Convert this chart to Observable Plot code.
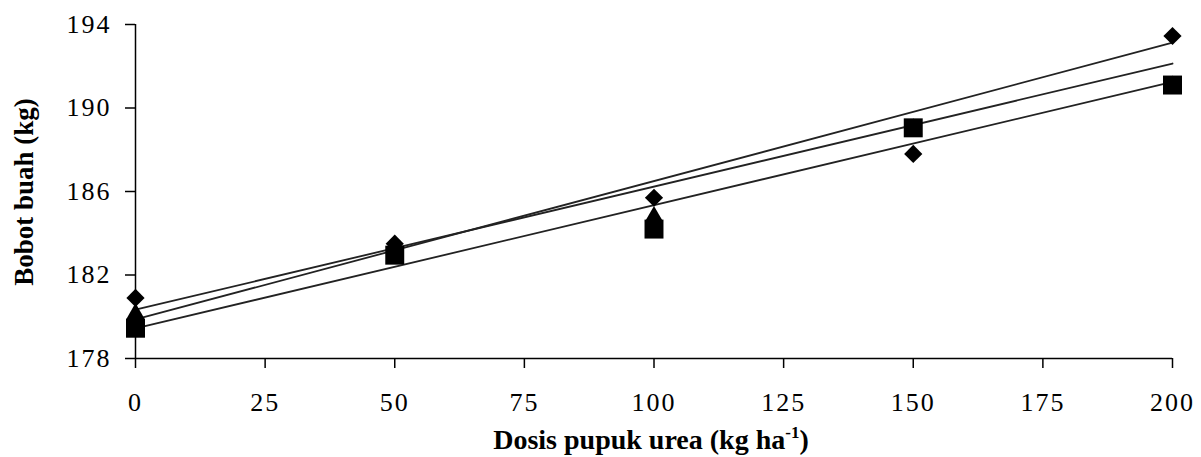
<!DOCTYPE html>
<html>
<head>
<meta charset="utf-8">
<script src="https://cdn.jsdelivr.net/npm/d3@7"></script>
<script src="https://cdn.jsdelivr.net/npm/@observablehq/plot@0.6"></script>
<style>
  html, body { margin: 0; padding: 0; background: #fff; }
  #chart svg { display: block; }
</style>
</head>
<body>
<div id="chart"></div>
<script>
// Dose of urea fertilizer (kg/ha)
const doses = [0, 50, 100, 150, 200];
// Fruit weight (kg) per series
const seriesDiamond  = [180.9, 183.5, 185.7, 187.8, 193.45];
const seriesTriangle = [180.15, 183.3, 184.8, 189.0, 191.05];
const seriesSquare   = [179.45, 182.95, 184.2, 189.05, 191.1];
// Fitted trend lines (values at x = 0 and x = 200)
const trendX        = [0, 200];
const trendDiamond  = [180.34, 192.13];
const trendTriangle = [179.87, 193.13];
const trendSquare   = [179.44, 191.25];
// Axis ticks
const xTicks = [0, 25, 50, 75, 100, 125, 150, 175, 200];
const yTicks = [178, 182, 186, 190, 194];

const pts = (ys) => doses.map((x, i) => ({x, y: ys[i]}));
const tl = (ys) => trendX.map((x, i) => ({x, y: ys[i]}));

const font = "'Liberation Serif', 'Times New Roman', serif";

const chart = Plot.plot({
  width: 1201,
  height: 457,
  marginLeft: 135,
  marginRight: 29,
  marginTop: 24,
  marginBottom: 99,
  style: {fontFamily: font, fontSize: "26px", color: "#000", background: "#fff"},
  x: {domain: [0, 200], ticks: xTicks, label: null},
  y: {domain: [178, 194], ticks: yTicks, label: null},
  marks: [
    Plot.axisY({ticks: yTicks, tickSize: 10, tickPadding: 14, stroke: "#000", strokeWidth: 1.5, fontSize: 26, label: null, tickFormat: d => String(d)}),
    Plot.axisX({ticks: xTicks, tickSize: 10, tickPadding: 24, stroke: "#000", strokeWidth: 1.5, fontSize: 26, label: null, tickFormat: d => String(d)}),
    Plot.ruleX([0], {stroke: "#000", strokeWidth: 1.5}),
    Plot.ruleY([178], {stroke: "#000", strokeWidth: 1.5}),
    Plot.line(tl(trendDiamond), {x: "x", y: "y", stroke: "#222", strokeWidth: 1.8}),
    Plot.line(tl(trendTriangle), {x: "x", y: "y", stroke: "#222", strokeWidth: 1.8}),
    Plot.line(tl(trendSquare), {x: "x", y: "y", stroke: "#222", strokeWidth: 1.8}),
    Plot.dot(pts(seriesTriangle), {x: "x", y: "y", symbol: "triangle", r: 6.8, fill: "#000"}),
    Plot.dot(pts(seriesDiamond), {x: "x", y: "y", symbol: "diamond2", r: 8.2, fill: "#000"}),
    Plot.dot(pts(seriesSquare), {x: "x", y: "y", symbol: "square", r: 10.7, fill: "#000"})
  ]
});

const svg = d3.select(chart);
svg.selectAll("g[aria-label='y-axis tick label'] text, g[aria-label='x-axis tick label'] text")
  .attr("letter-spacing", "2px");

// Axis titles
svg.append("text")
  .attr("transform", "translate(33,192) rotate(-90)")
  .attr("text-anchor", "middle")
  .attr("font-family", font)
  .attr("font-weight", "bold")
  .attr("font-size", 27)
  .attr("fill", "#000")
  .text("Bobot buah (kg)");

const xt = svg.append("text")
  .attr("x", 651)
  .attr("y", 449)
  .attr("text-anchor", "middle")
  .attr("font-family", font)
  .attr("font-weight", "bold")
  .attr("font-size", 28)
  .attr("fill", "#000");
xt.append("tspan").text("Dosis pupuk urea (kg ha");
xt.append("tspan").attr("font-size", 17).attr("dy", -11).text("-1");
xt.append("tspan").attr("dy", 11).text(")");

document.getElementById("chart").appendChild(chart);
</script>
</body>
</html>
